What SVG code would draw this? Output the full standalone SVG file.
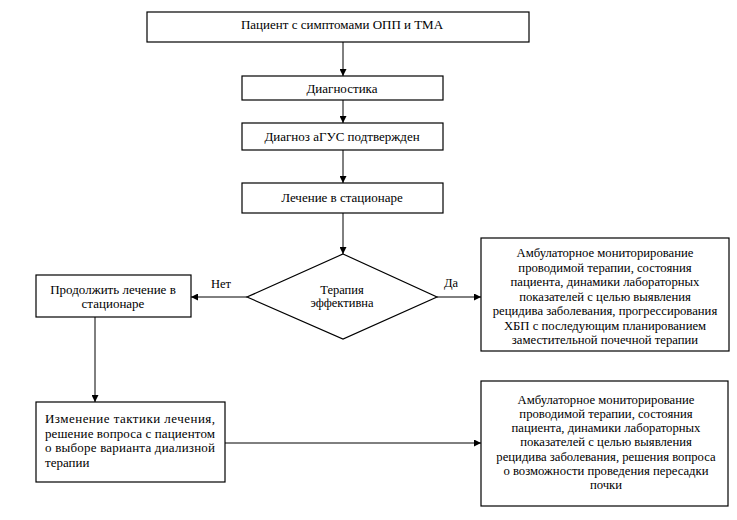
<svg xmlns="http://www.w3.org/2000/svg" width="737" height="520" viewBox="0 0 737 520">
<style>
  .box { fill: #ffffff; stroke: #000000; stroke-width: 1.2; }
  .t { font-family: 'Liberation Serif', 'DejaVu Serif', serif; font-size: 12.5px; fill: #000000; }
  .big { font-size: 13px; }
  .r { font-size: 12.7px; }
  .c { text-anchor: middle; }
  .ln { fill: none; stroke: #000000; stroke-width: 1; }
</style>
<defs>
  <marker id="ah" viewBox="0 0 10 10" refX="10" refY="5" markerWidth="7" markerHeight="7" markerUnits="userSpaceOnUse" orient="auto">
    <path d="M0,0 L10,5 L0,10 Z" fill="#000000"/>
  </marker>
</defs>
<rect width="737" height="520" fill="#ffffff"/>
<g id="connectors">
  <line class="ln" x1="343" y1="42" x2="343" y2="76" marker-end="url(#ah)"/>
  <line class="ln" x1="343" y1="100" x2="343" y2="123" marker-end="url(#ah)"/>
  <line class="ln" x1="343" y1="150" x2="343" y2="183" marker-end="url(#ah)"/>
  <line class="ln" x1="343" y1="213" x2="343" y2="254" marker-end="url(#ah)"/>
  <line class="ln" x1="247" y1="297" x2="191" y2="297" marker-end="url(#ah)"/>
  <line class="ln" x1="437" y1="297" x2="481" y2="297" marker-end="url(#ah)"/>
  <line class="ln" x1="95" y1="317" x2="95" y2="402" marker-end="url(#ah)"/>
  <line class="ln" x1="225" y1="443" x2="481" y2="443" marker-end="url(#ah)"/>
  <text class="t c" x="221" y="288">Нет</text>
  <text class="t c" x="451" y="287">Да</text>
</g>
<g id="n1">
  <rect class="box" x="147" y="12" width="382" height="30"/>
  <text class="t big c" x="342" y="28.5">Пациент с симптомами ОПП и ТМА</text>
</g>
<g id="n2">
  <rect class="box" x="242" y="76" width="201" height="24"/>
  <text class="t big c" x="342" y="92.5">Диагностика</text>
</g>
<g id="n3">
  <rect class="box" x="242" y="123" width="201" height="27"/>
  <text class="t big c" x="342" y="140.5">Диагноз аГУС подтвержден</text>
</g>
<g id="n4">
  <rect class="box" x="242" y="183" width="201" height="30"/>
  <text class="t big c" x="342" y="202">Лечение в стационаре</text>
</g>
<g id="n5">
  <polygon class="box" points="343,254 437,297 343,339 247,297"/>
  <text class="t c" x="342" y="294">Терапия</text>
  <text class="t c" x="342" y="307">эффективна</text>
</g>
<g id="n6">
  <rect class="box" x="36" y="275" width="155" height="42"/>
  <text class="t big c" x="113" y="294">Продолжить лечение в</text>
  <text class="t big c" x="113" y="307.5">стационаре</text>
</g>
<g id="n7">
  <rect class="box" x="481" y="238" width="248" height="113"/>
  <text class="t r c" x="605" y="257">Амбулаторное мониторирование</text>
  <text class="t r c" x="605" y="271.5">проводимой терапии, состояния</text>
  <text class="t r c" x="605" y="286">пациента, динамики лабораторных</text>
  <text class="t r c" x="605" y="300.5">показателей с целью выявления</text>
  <text class="t r c" x="605" y="315">рецидива заболевания, прогрессирования</text>
  <text class="t r c" x="605" y="329.5">ХБП с последующим планированием</text>
  <text class="t r c" x="605" y="344">заместительной почечной терапии</text>
</g>
<g id="n8">
  <rect class="box" x="36" y="402" width="189" height="80"/>
  <text class="t big" x="45" y="423" textLength="170" lengthAdjust="spacing">Изменение тактики лечения,</text>
  <text class="t big" x="45" y="437.5" textLength="170" lengthAdjust="spacing">решение вопроса с пациентом</text>
  <text class="t big" x="45" y="452" textLength="170" lengthAdjust="spacing">о выборе варианта диализной</text>
  <text class="t big" x="45" y="466.5">терапии</text>
</g>
<g id="n9">
  <rect class="box" x="481" y="381" width="247" height="125"/>
  <text class="t r c" x="606" y="403.5">Амбулаторное мониторирование</text>
  <text class="t r c" x="606" y="417.8">проводимой терапии, состояния</text>
  <text class="t r c" x="606" y="432.1">пациента, динамики лабораторных</text>
  <text class="t r c" x="606" y="446.4">показателей с целью выявления</text>
  <text class="t r c" x="606" y="460.7">рецидива заболевания, решения вопроса</text>
  <text class="t r c" x="606" y="475">о возможности проведения пересадки</text>
  <text class="t r c" x="606" y="489.3">почки</text>
</g>
</svg>
